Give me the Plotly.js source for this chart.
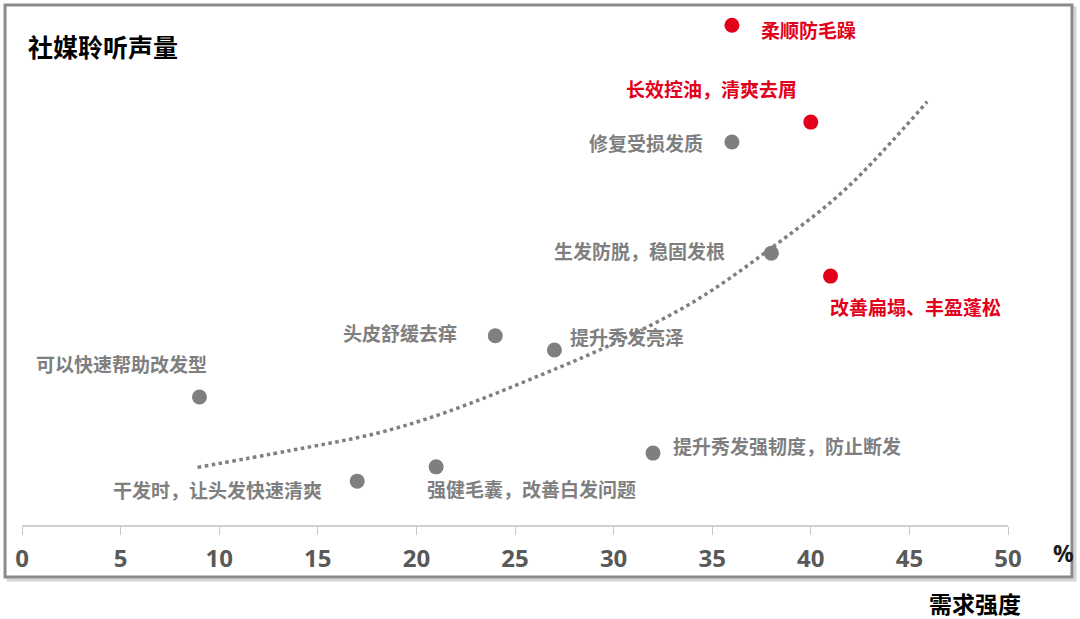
<!DOCTYPE html>
<html>
<head>
<meta charset="utf-8">
<script src="https://cdn.plot.ly/plotly-3.0.1.min.js"></script>
<style>html,body{margin:0;padding:0;background:#fff;}#chart{width:1080px;height:619px;}</style>
</head>
<body>
<div id="chart"></div>
<script>
// ---- data ----
const names = ["柔顺防毛躁","长效控油，清爽去屑","修复受损发质","生发防脱，稳固发根","改善扁塌、丰盈蓬松","头皮舒缓去痒","提升秀发亮泽","可以快速帮助改发型","提升秀发强韧度，防止断发","强健毛囊，改善白发问题","干发时，让头发快速清爽"];
const demand = [36, 40, 36, 38, 41, 24, 27, 9, 32, 21, 17];          // 需求强度 (%)
const volume = [98, 79, 75.1, 53.3, 48.8, 37.1, 34.3, 25.1, 14.1, 11.4, 8.6]; // 社媒聆听声量 (relative)
const highlighted = ["柔顺防毛躁","长效控油，清爽去屑","改善扁塌、丰盈蓬松"];
const trendX = [8.9, 13.6, 18.0, 21.5, 26.3, 30.0, 34.2, 38.1, 41.8, 45.9];
const trendY = [11.3, 14.6, 18.0, 22.1, 29.4, 35.6, 44.1, 54.6, 66.0, 83.0];
const xTicks = [0,5,10,15,20,25,30,35,40,45,50];

// ---- label placement (layout only) ----
const labelAnchor = ["left","right","right","right","left","right","left","right","left","left","right"];
const labelDx = [27,-12,-27,-44,-3,-36,14,10,18,-11,-33];
const labelDy = [-4,34,-1,3,-30,3,14,33,8,-22,-8];

const RED = "#e3001b", GRAY = "#7f7f7f";
const FONT = "Noto Sans CJK SC, Noto Sans, sans-serif";
const colors = names.map(n => highlighted.includes(n) ? RED : GRAY);

const traces = [
  {x: trendX, y: trendY, type: "scatter", mode: "lines", hoverinfo: "skip",
   line: {color: "#7f7f7f", width: 3.5, dash: "dot", shape: "spline", smoothing: 1}},
  {x: demand, y: volume, type: "scatter", mode: "markers", text: names,
   marker: {size: 15, color: colors}}
];

const annotations = names.map((n, i) => ({
  x: demand[i], y: volume[i], xref: "x", yref: "y", text: "<b>" + n + "</b>",
  showarrow: false, xanchor: labelAnchor[i], yanchor: "middle",
  xshift: labelDx[i], yshift: labelDy[i],
  font: {family: FONT, size: 19, color: colors[i]}
}));
annotations.push(
  {xref: "paper", yref: "paper", x: 0.004, y: 0.94, xanchor: "left", yanchor: "middle",
   text: "<b>社媒聆听声量</b>", showarrow: false, font: {family: FONT, size: 25, color: "#000"}},
  {xref: "paper", yref: "paper", x: 1.015, y: -0.152, xanchor: "right", yanchor: "middle",
   text: "<b>需求强度</b>", showarrow: false, font: {family: FONT, size: 23, color: "#000"}},
  {xref: "paper", yref: "paper", x: 1.056, y: -0.054, xanchor: "center", yanchor: "middle",
   text: "<b>%</b>", showarrow: false, font: {family: "Open Sans, sans-serif", size: 23, color: "#1a1a1a"}}
);

const layout = {
  width: 1080, height: 619,
  margin: {l: 22, r: 72, t: 15, b: 94},
  paper_bgcolor: "#fff", plot_bgcolor: "#fff",
  showlegend: false,
  xaxis: {range: [0, 50], tickvals: xTicks, ticktext: xTicks.map(v => "<b>" + v + "</b>"),
          showgrid: false, zeroline: false, showline: true, linecolor: "#d0d0d0", linewidth: 1.5,
          ticks: "outside", ticklen: 8, tickcolor: "#c8c8c8", tickwidth: 1,
          ticklabelstandoff: 4,
          tickfont: {family: "Open Sans, sans-serif", size: 24, color: "#595959", weight: "bold"}, fixedrange: true},
  yaxis: {range: [0, 100], visible: false, showgrid: false, zeroline: false, fixedrange: true},
  shapes: [
    {type: "rect", xref: "paper", yref: "paper", x0: -0.0142, x1: 1.0680, y0: -0.108, y1: 1.014,
     line: {color: "#d6d6d6", width: 3}, layer: "below"},
    {type: "rect", xref: "paper", yref: "paper", x0: -0.0172, x1: 1.0649, y0: -0.102, y1: 1.0196,
     line: {color: "#8a8a8a", width: 3}, fillcolor: "#ffffff", layer: "below"}
  ],
  annotations: annotations
};

Plotly.newPlot("chart", traces, layout, {displayModeBar: false, staticPlot: true});
</script>
</body>
</html>
